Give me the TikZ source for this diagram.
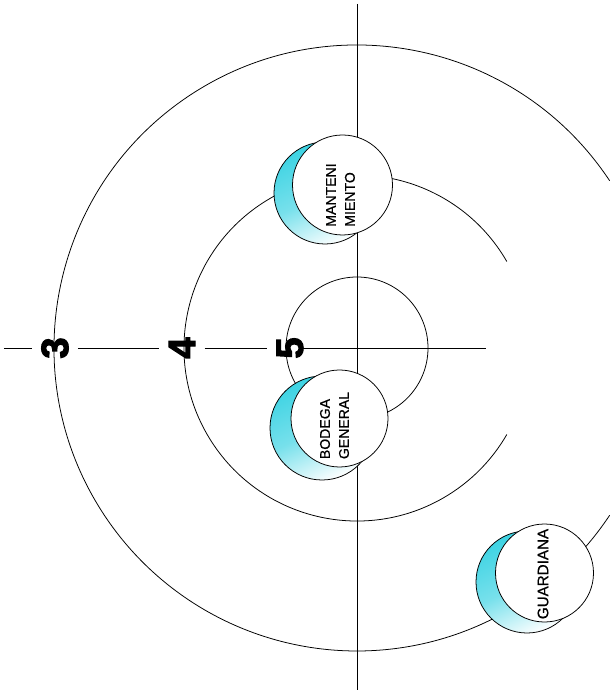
\documentclass[tikz,border=0pt]{standalone}
\usepackage{fontspec}
\setmainfont{Liberation Sans}
\newfontfamily\numfont[FakeBold=3]{Liberation Sans Bold}
\newfontfamily\roomfont[FakeBold=0.6]{Liberation Sans}
\usetikzlibrary{positioning}
\definecolor{roomcyan}{HTML}{3DD3E3}

\begin{document}
\begin{tikzpicture}[x=0.025cm, y=0.025cm, line width=0.55pt,
    crescent/.style={draw, left color=roomcyan, right color=white, middle color=roomcyan!70!white, shading angle=25},
    disc/.style={draw, fill=white},
    roomlabel/.style={rotate=90, align=left, inner sep=0pt, font=\roomfont\fontsize{10}{13.5}\selectfont},
    numlabel/.style={rotate=90, inner sep=6.5pt, font=\numfont\fontsize{27}{27}\selectfont}]
    \useasboundingbox (-357,-346) rectangle (253,348);

    % Axis ends and digits
    \coordinate (lineW) at (-353,0);
    \coordinate (lineE) at (129,0);
    \coordinate (lineN) at (0,344);
    \coordinate (lineS) at (0,-342);
    \node[numlabel] (num3) at (-302,0) {3};
    \node[numlabel] (num4) at (-175,0) {4};
    \node[numlabel] (num5) at (-67,0) {5};
    \coordinate (gap5) at (-54,0);

    % Axes
    \draw (lineN) -- (lineS);
    \draw (lineW) -- (num3);
    \draw (num3) -- (num4);
    \draw (num4) -- (num5);
    \draw (gap5) -- (lineE);

    % Rings
    \draw (0,0) circle (71);
    \draw (30:173) arc (30:330:173);
    \draw (33.5:303) arc (33.5:326.5:303);

    % Manteni miento
    \shade[crescent] (-32,155) circle (51);
    \draw[disc] (-14.5,163) circle (50);
    \node[roomlabel] (manteni) at (-16.5,153) {MANTENI\\MIENTO};

    % Bodega general
    \shade[crescent] (-35,-80) circle (52);
    \draw[disc] (-17.5,-70.5) circle (48.5);
    \node[roomlabel] (bodega) at (-22.5,-77.5) {BODEGA\\GENERAL};

    % Guardiania
    \shade[crescent] (170,-234) circle (51);
    \draw[disc] (187.5,-225) circle (49);
    \node[roomlabel, font=\roomfont\fontsize{10.8}{13.5}\selectfont] (guardiania) at (186,-226) {GUARDIANA};
\end{tikzpicture}
\end{document}
